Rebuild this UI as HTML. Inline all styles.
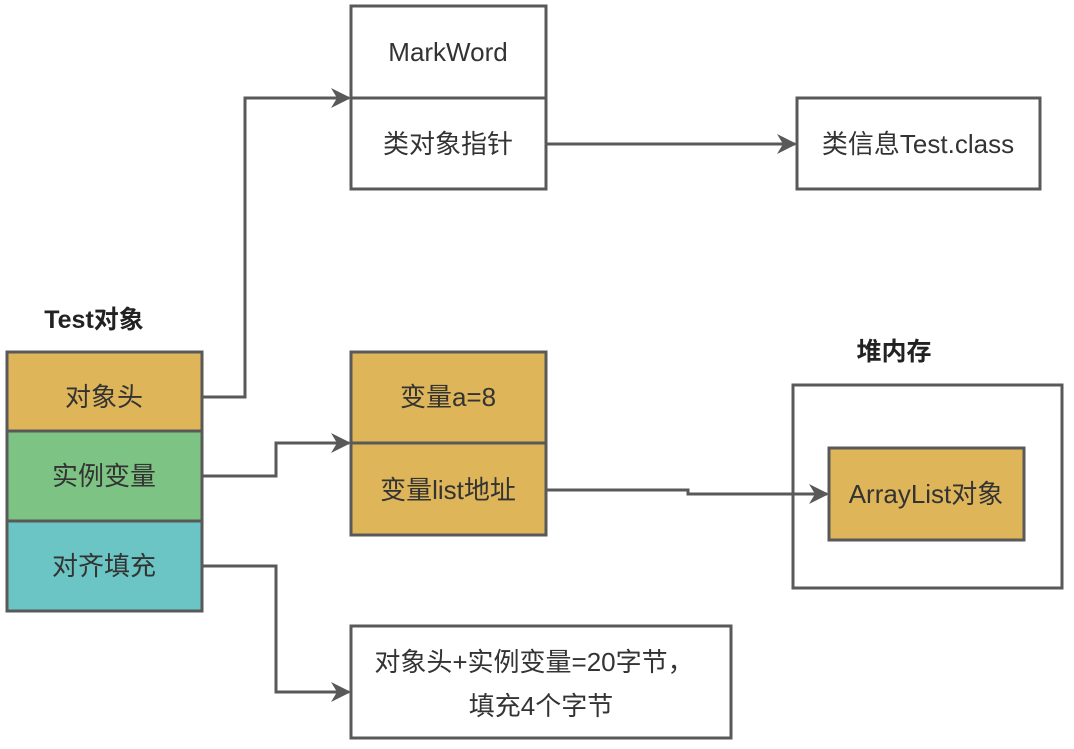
<!DOCTYPE html>
<html><head><meta charset="utf-8"><style>
body{margin:0;background:#fff}
text{font-family:"Liberation Sans","Noto Sans CJK SC",sans-serif;fill:#333;font-size:26px;text-anchor:middle;dominant-baseline:central}
</style></head><body>
<svg width="1074" height="744" xmlns="http://www.w3.org/2000/svg">
<defs>
<marker id="b" viewBox="0 0 10 10" markerWidth="24" markerHeight="20" refX="9" refY="5" orient="auto" markerUnits="userSpaceOnUse"><path d="M0,0 L10,5 L0,10 L3,5z" fill="#595959"/></marker></defs>
<g stroke="#595959" stroke-width="3" fill="none">
<rect x="351" y="6" width="195" height="92" fill="#fff"/>
<rect x="351" y="98" width="195" height="91" fill="#fff"/>
<rect x="797" y="98" width="243" height="91" fill="#fff"/>
<rect x="7" y="352" width="195" height="79" fill="#dfb55a"/>
<rect x="7" y="431" width="195" height="90" fill="#7dc383"/>
<rect x="7" y="521" width="195" height="90" fill="#6cc5c5"/>
<rect x="351" y="352" width="195" height="91" fill="#dfb55a"/>
<rect x="351" y="443" width="195" height="92" fill="#dfb55a"/>
<rect x="793" y="385" width="269" height="203" fill="#fff"/>
<rect x="829" y="448" width="195" height="92" fill="#dfb55a"/>
<rect x="351" y="626" width="380" height="112" fill="#fff"/>
<path d="M202,397 H245 V98 H349" marker-end="url(#b)"/>
<path d="M202,476 H276 V443 H349" marker-end="url(#b)"/>
<path d="M202,566 H276 V692 H349" marker-end="url(#b)"/>
<path d="M546,144 H795" marker-end="url(#b)"/>
<path d="M546,490 H688 V494 H827" marker-end="url(#b)"/>
</g>
<text x="448" y="52">MarkWord</text>
<text x="448" y="144">类对象指针</text>
<text x="918" y="144">类信息Test.class</text>
<text x="94" y="320" style="font-weight:bold;fill:#222;font-size:25px">Test对象</text>
<text x="104" y="397">对象头</text>
<text x="104" y="476">实例变量</text>
<text x="104" y="566">对齐填充</text>
<text x="448" y="397">变量a=8</text>
<text x="448" y="490">变量list地址</text>
<text x="894" y="352" style="font-weight:bold;fill:#222;font-size:25px">堆内存</text>
<text x="926" y="494">ArrayList对象</text>
<text x="534" y="662">对象头+实例变量=20字节，</text>
<text x="541" y="706">填充4个字节</text>
</svg>
</body></html>
